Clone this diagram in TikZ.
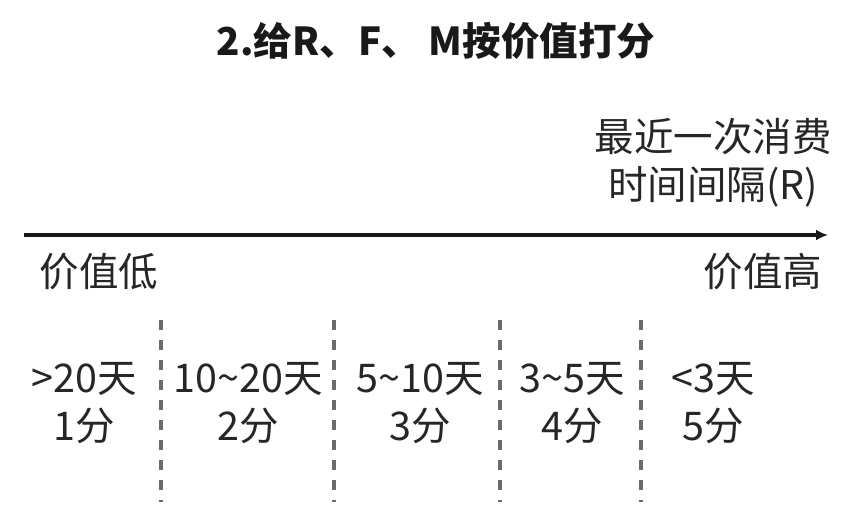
\documentclass[tikz,border=0pt]{standalone}
\usepackage{fontspec}
\setmainfont{Noto Sans CJK SC}
\usetikzlibrary{arrows.meta}
\begin{document}
\begin{tikzpicture}[x=1pt,y=-1pt,
  txt/.style={font=\fontsize{39.5}{48}\selectfont, text=black!85, inner sep=0pt, align=center},
  ttl/.style={font=\fontsize{38.5}{44}\selectfont\bfseries, text=black!90, inner sep=0pt},
  sep/.style={draw=black!58, line width=3.6pt, dash pattern=on 10pt off 10pt},
  axis/.style={draw=black!90, line width=3.5pt, -{Latex[length=12pt,width=11pt]}}]
\useasboundingbox (0,0) rectangle (846,515);
\node[ttl] (title) at (436,41) {2.给R、F、 M按价值打分};
\node[txt] (rlab) at (713,163) {最近一次消费\\时间间隔(R)};
\coordinate (a0) at (24,235);
\coordinate (a1) at (828,235);
\draw[axis] (a0) -- (a1);
\node[txt] (low) at (99,272) {价值低};
\node[txt] (high) at (763,272) {价值高};
\foreach \x/\n in {161/d1,334/d2,500/d3,641/d4}{
  \coordinate (\n t) at (\x,320);
  \coordinate (\n b) at (\x,502);
  \draw[sep] (\n t) -- (\n b);
}
\node[txt] (s1) at (84,403) {>20天\\1分};
\node[txt] (s2) at (248,403) {10\textasciitilde20天\\2分};
\node[txt] (s3) at (420,403) {5\textasciitilde10天\\3分};
\node[txt] (s4) at (572,403) {3\textasciitilde5天\\4分};
\node[txt] (s5) at (713,403) {<3天\\5分};
\end{tikzpicture}
\end{document}
